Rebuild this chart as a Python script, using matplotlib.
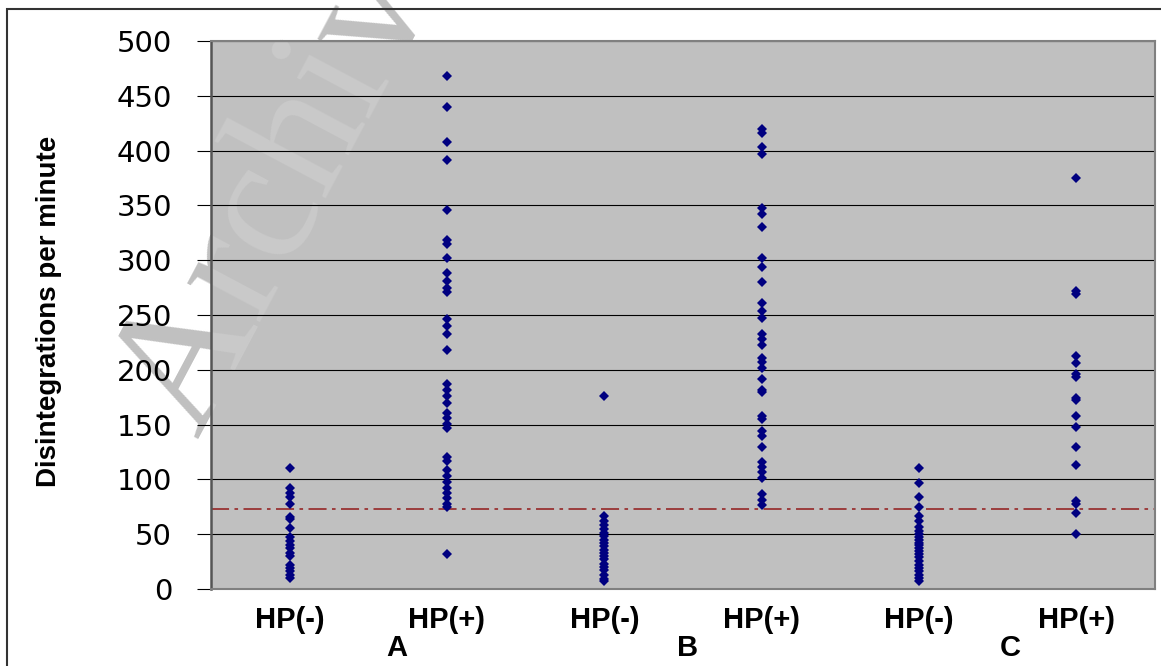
import matplotlib
matplotlib.use("Agg")
import matplotlib.pyplot as plt
from matplotlib.patches import Rectangle

# values (disintegrations per minute)
a_neg = [110, 92, 88, 84, 78, 66, 64, 56, 47, 44, 40, 37, 33, 30, 22, 19, 16, 13, 10]
a_pos = [468, 440, 408, 391, 346, 318, 315, 302, 288, 281, 275, 271, 246, 240, 233,
         218, 187, 182, 176, 170, 161, 156, 151, 147, 120, 117, 109, 103, 98, 92, 88,
         83, 78, 75, 32]
b_neg = [176, 67, 62, 58, 55, 51, 48, 45, 42, 39, 36, 33, 30, 27, 23, 20, 17, 13, 9, 7]
b_pos = [420, 416, 403, 397, 348, 342, 330, 302, 294, 280, 261, 254, 247, 233, 228,
         223, 211, 207, 202, 192, 182, 180, 158, 155, 144, 140, 130, 116, 111, 107,
         101, 87, 81, 77]
c_neg = [110, 97, 84, 75, 67, 62, 57, 53, 50, 47, 45, 42, 40, 37, 35, 32, 29, 26,
         22, 19, 16, 13, 10, 7]
c_pos = [375, 272, 269, 213, 206, 196, 193, 174, 172, 158, 148, 130, 113, 80, 78,
         69, 50]

groups = [a_neg, a_pos, b_neg, b_pos, c_neg, c_pos]
tick_labels = ["HP(-)", "HP(+)", "HP(-)", "HP(+)", "HP(-)", "HP(+)"]
site_labels = ["A", "B", "C"]
site_pos = [1.18, 3.03, 5.08]
cutoff = 73

fig = plt.figure(figsize=(11.61, 6.66), dpi=100)
ax = fig.add_axes([211 / 1161, 77 / 666, 944 / 1161, 548 / 666])
ax.set_facecolor("#c0c0c0")

# watermark: grey on the white part, faintly lighter where it crosses the plot
wm_x, wm_y = 0.076, 0.369
wm = dict(fontsize=130, family="Liberation Serif", rotation=62, ha="left",
          va="baseline")
fig.text(wm_x, wm_y, "Archive of SID", color="#c0c0c0", zorder=-1, **wm)
ax.text(wm_x, wm_y, "Archive of SID", color="white", alpha=0.15, zorder=0.2,
        clip_on=True, transform=fig.transFigure, **wm)

for i, vals in enumerate(groups):
    ax.plot([i + 0.5] * len(vals), vals, linestyle="none", marker="D",
            markersize=4.8, color="#000080", markeredgewidth=0, zorder=3)

ax.axhline(cutoff, color="#993333", lw=1.3, dashes=(10, 3, 2, 3), zorder=2)

ax.set_xlim(0, 6)
ax.set_ylim(0, 500)
ax.set_yticks(range(0, 501, 50))
ax.yaxis.grid(True, color="black", lw=0.8)
ax.set_axisbelow(True)
ax.set_xticks([])
ax.tick_params(axis="y", length=10, width=0.8, pad=18, labelsize=21)
for lab in ax.get_yticklabels():
    lab.set_family("DejaVu Sans")

for s in ["top", "right", "bottom"]:
    ax.spines[s].set_color("#808080")
    ax.spines[s].set_linewidth(1.5)
ax.spines["left"].set_color("#555555")
ax.spines["left"].set_linewidth(1.8)

for i, t in enumerate(tick_labels):
    ax.text(i + 0.5, -0.057, t, transform=ax.get_xaxis_transform(), ha="center",
            va="center", fontsize=21, fontweight="bold", family="Liberation Sans")
for x, t in zip(site_pos, site_labels):
    ax.text(x, -0.108, t, transform=ax.get_xaxis_transform(), ha="center",
            va="center", fontsize=21, fontweight="bold", family="Liberation Sans")

fig.text(49 / 1161, 1 - 311 / 666, "Disintegrations per minute", rotation=90,
         ha="center", va="center", fontsize=20, fontweight="bold",
         family="Liberation Sans")

# outer frame of the chart
fig.patches.append(Rectangle((7 / 1161, -0.05), 1.1, 1 - 9 / 666 + 0.05,
                             transform=fig.transFigure, fill=False,
                             edgecolor="#333333", lw=1.5))

fig.savefig("out.png", dpi=100)
